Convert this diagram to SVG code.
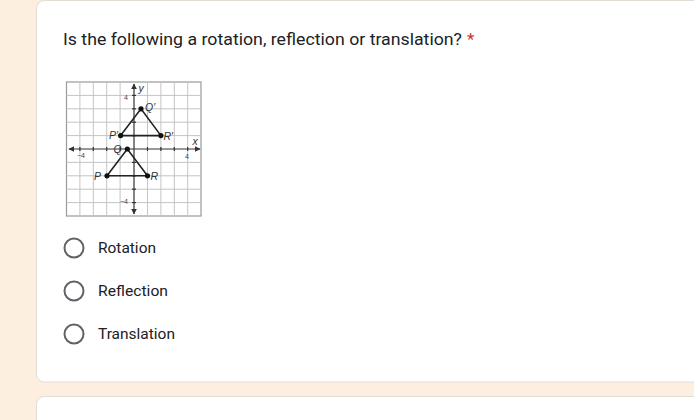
<svg xmlns="http://www.w3.org/2000/svg" width="694" height="420" viewBox="0 0 694 420">
<style>
.q{font-family:Roboto,"Liberation Sans",sans-serif;font-size:17px;fill:#202124}
.opt{font-family:Roboto,"Liberation Sans",sans-serif;font-size:15px;fill:#202124}
.radio{fill:none;stroke:#5f6368;stroke-width:2}
.grid{stroke:#c4c4c4;stroke-width:1}
.axis{stroke:#333;stroke-width:1.2}
.tri{fill:none;stroke:#222;stroke-width:1.6}
.pt{fill:#111}
.lbl{font-family:"Liberation Sans",Arial,sans-serif;font-style:italic;font-size:10.5px;fill:#333}
.num{font-family:"Liberation Sans",Arial,sans-serif;font-size:7px;fill:#444}
</style>
<defs>
<marker id="ah" viewBox="0 0 10 10" refX="9" refY="5" markerWidth="5" markerHeight="5" orient="auto">
<path d="M0,0 L10,5 L0,10 z" fill="#333"/>
</marker>
</defs>
<rect x="0" y="0" width="694" height="420" fill="#fcefdf"/>
<g id="card1">
<rect x="36.5" y="0.5" width="680" height="381.5" rx="8" fill="#fff" stroke="#e3dcd2"/>
<text class="q" x="63" y="45"><tspan textLength="399" lengthAdjust="spacingAndGlyphs">Is the following a rotation, reflection or translation?</tspan><tspan fill="#d93025" dx="5">*</tspan></text>
</g>
<g id="card2">
<rect x="36.5" y="396.5" width="680" height="40" rx="8" fill="#fff" stroke="#e3dcd2"/>
</g>
<g id="graph">
<rect x="66.5" y="82" width="134.5" height="134" fill="#fff" stroke="#9a9a9a" stroke-width="1.2"/>
<g class="grid">
<line x1="79.9" y1="82" x2="79.9" y2="216"/>
<line x1="93.3" y1="82" x2="93.3" y2="216"/>
<line x1="106.7" y1="82" x2="106.7" y2="216"/>
<line x1="120.1" y1="82" x2="120.1" y2="216"/>
<line x1="147.5" y1="82" x2="147.5" y2="216"/>
<line x1="160.9" y1="82" x2="160.9" y2="216"/>
<line x1="174.3" y1="82" x2="174.3" y2="216"/>
<line x1="187.7" y1="82" x2="187.7" y2="216"/>
<line x1="66.5" y1="95.4" x2="201" y2="95.4"/>
<line x1="66.5" y1="108.8" x2="201" y2="108.8"/>
<line x1="66.5" y1="122.2" x2="201" y2="122.2"/>
<line x1="66.5" y1="135.6" x2="201" y2="135.6"/>
<line x1="66.5" y1="162.4" x2="201" y2="162.4"/>
<line x1="66.5" y1="175.8" x2="201" y2="175.8"/>
<line x1="66.5" y1="189.2" x2="201" y2="189.2"/>
<line x1="66.5" y1="202.6" x2="201" y2="202.6"/>
</g>
<line class="axis" x1="134" y1="149" x2="69" y2="149" marker-end="url(#ah)"/>
<line class="axis" x1="134" y1="149" x2="200" y2="149" marker-end="url(#ah)"/>
<line class="axis" x1="134" y1="149" x2="134" y2="84" marker-end="url(#ah)"/>
<line class="axis" x1="134" y1="149" x2="134" y2="214" marker-end="url(#ah)"/>
<g class="axis" stroke-width="0.8">
<line x1="79.9" y1="147" x2="79.9" y2="151"/>
<line x1="93.3" y1="147" x2="93.3" y2="151"/>
<line x1="106.7" y1="147" x2="106.7" y2="151"/>
<line x1="120.1" y1="147" x2="120.1" y2="151"/>
<line x1="147.5" y1="147" x2="147.5" y2="151"/>
<line x1="160.9" y1="147" x2="160.9" y2="151"/>
<line x1="174.3" y1="147" x2="174.3" y2="151"/>
<line x1="187.7" y1="147" x2="187.7" y2="151"/>
<line x1="132" y1="95.4" x2="136" y2="95.4"/>
<line x1="132" y1="108.8" x2="136" y2="108.8"/>
<line x1="132" y1="122.2" x2="136" y2="122.2"/>
<line x1="132" y1="135.6" x2="136" y2="135.6"/>
<line x1="132" y1="162.4" x2="136" y2="162.4"/>
<line x1="132" y1="175.8" x2="136" y2="175.8"/>
<line x1="132" y1="189.2" x2="136" y2="189.2"/>
<line x1="132" y1="202.6" x2="136" y2="202.6"/>
</g>
<polygon class="tri" points="120.6,135.6 141,108.8 160.9,135.6"/>
<polygon class="tri" points="107,175.8 127.3,149 147.5,175.8"/>
<circle class="pt" cx="141" cy="108.8" r="2.6"/>
<circle class="pt" cx="120.6" cy="135.6" r="2.6"/>
<circle class="pt" cx="160.9" cy="135.6" r="2.6"/>
<circle class="pt" cx="127.3" cy="149" r="2.6"/>
<circle class="pt" cx="107" cy="175.8" r="2.6"/>
<circle class="pt" cx="147.5" cy="175.8" r="2.6"/>
<text class="lbl" x="138.5" y="92">y</text>
<text class="lbl" x="192.5" y="145">x</text>
<text class="lbl" x="145" y="111">Q′</text>
<text class="lbl" x="109" y="139">P′</text>
<text class="lbl" x="163.5" y="140">R′</text>
<text class="lbl" x="113.5" y="153">Q</text>
<text class="lbl" x="94" y="179.5">P</text>
<text class="lbl" x="150.5" y="179.5">R</text>
<text class="num" x="124" y="99.5">4</text>
<text class="num" x="77" y="158">−4</text>
<text class="num" x="185" y="159">4</text>
<text class="num" x="120" y="204">−4</text>
</g>
<g id="opt1">
<circle class="radio" cx="74" cy="248" r="9.5"/>
<text class="opt" x="98" y="253" textLength="58" lengthAdjust="spacingAndGlyphs">Rotation</text>
</g>
<g id="opt2">
<circle class="radio" cx="74" cy="291" r="9.5"/>
<text class="opt" x="98" y="296" textLength="70" lengthAdjust="spacingAndGlyphs">Reflection</text>
</g>
<g id="opt3">
<circle class="radio" cx="74" cy="334" r="9.5"/>
<text class="opt" x="98" y="339" textLength="77" lengthAdjust="spacingAndGlyphs">Translation</text>
</g>
</svg>
